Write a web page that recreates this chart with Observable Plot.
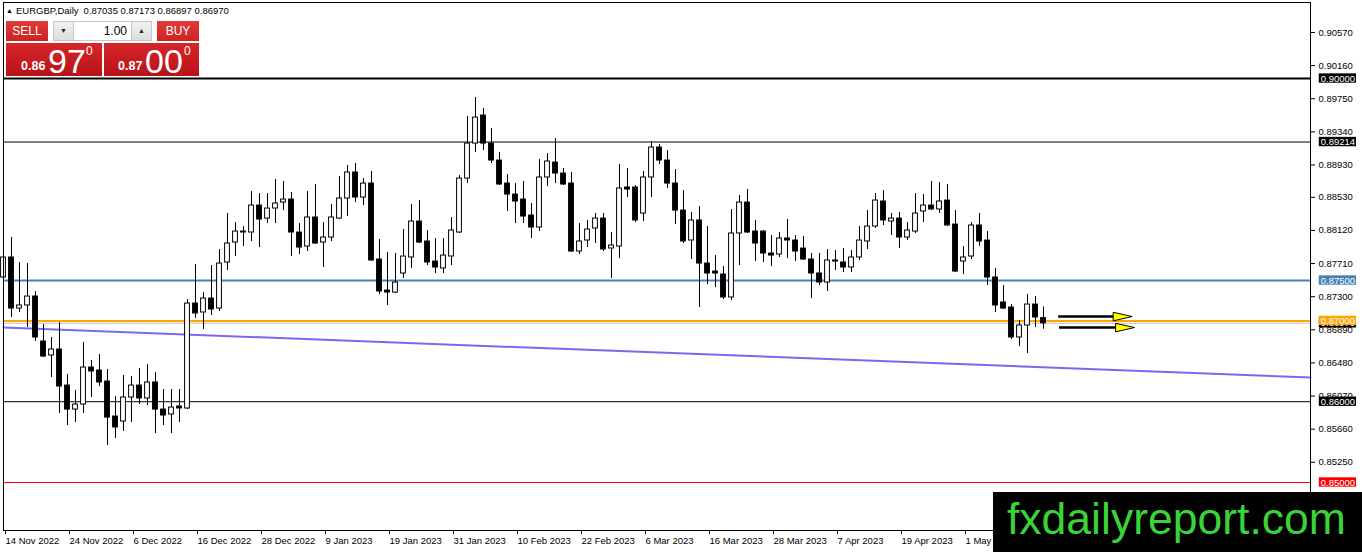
<!DOCTYPE html>
<html><head><meta charset="utf-8">
<script src="https://cdn.jsdelivr.net/npm/d3@7"></script>
<script src="https://cdn.jsdelivr.net/npm/@observablehq/plot@0.6"></script>
<style>
html,body{margin:0;padding:0;background:#fff;}
#wrap{position:relative;width:1362px;height:552px;overflow:hidden;font-family:"Liberation Sans",Arial,sans-serif;}
#chart{position:absolute;left:0;top:0;}
.ov{position:absolute;white-space:nowrap;}
#hdr{left:6px;top:5px;font-size:9.5px;line-height:11px;color:#000;}
#hdr .tri{font-size:7px;vertical-align:1px;margin-right:3px;}
#hdr .nums{margin-left:5px;}
.btn{position:absolute;top:21px;height:20px;background:linear-gradient(#e23a38,#cc2323);color:#fff;font-size:12px;line-height:20px;text-align:center;}
#sell{left:6px;width:42px;}
#buy{left:157px;width:42px;}
#spin{position:absolute;left:53px;top:21px;width:99px;height:20px;background:#fff;border:1px solid #c8c8c8;box-sizing:border-box;}
#spin .a{position:absolute;top:0;width:19px;height:18px;background:linear-gradient(#f2f2f2,#dcdcdc);border-right:1px solid #c8c8c8;font-size:7px;line-height:18px;text-align:center;color:#222;}
#spin .dn{left:0;}
#spin .up{right:0;border-right:none;border-left:1px solid #c8c8c8;}
#spin .val{position:absolute;right:24px;top:0;font-size:12px;line-height:18px;color:#000;}
.pbox{position:absolute;top:43px;height:33px;background:linear-gradient(#d6262a,#b8121a);color:#fff;}
.pbox span{position:absolute;line-height:1;}
.pbox .sm{font-size:12.5px;font-weight:bold;top:17px;}
.pbox .big{font-size:34px;top:1px;}
.pbox .sup{font-size:12px;top:2px;}
#wm{left:993px;top:492px;width:369px;height:60px;background:#000;}
#wm span{position:absolute;left:14px;top:5px;font-size:44.5px;line-height:1;color:#3ad43a;}
</style></head><body>
<div id="wrap">
<div id="chart"></div>
<div class="ov" id="hdr"><span class="tri">▲</span>EURGBP,Daily<span class="nums" id="hdrnums"></span></div>
<div class="btn" id="sell">SELL</div>
<div id="spin"><div class="a dn">▼</div><div class="val">1.00</div><div class="a up">▲</div></div>
<div class="btn" id="buy">BUY</div>
<div class="pbox" style="left:6px;width:96px;"><span class="sm" style="left:15px;">0.86</span><span class="big" style="left:42px;">97</span><span class="sup" style="left:80px;">0</span></div>
<div class="pbox" style="left:104px;width:95px;"><span class="sm" style="left:14px;">0.87</span><span class="big" style="left:41px;">00</span><span class="sup" style="left:80px;">0</span></div>
<div class="ov" id="wm"><span>fxdailyreport.com</span></div>
</div>
<script>
// ---- data (EURGBP daily, bar index 0 = 14 Nov 2022) ----
const opens = [0.87537,0.87785,0.87153,0.87191,0.87302,0.86745,0.86572,0.86646,0.86200,0.85903,
0.85965,0.86423,0.86386,0.86250,0.85817,0.85755,0.86052,0.86200,0.86040,0.86238,
0.85903,0.85842,0.85941,0.85916,0.87215,0.87104,0.87277,0.87153,0.87723,0.87970,
0.88106,0.88094,0.88428,0.88267,0.88391,0.88465,0.88502,0.88094,0.87921,0.88280,
0.87970,0.88032,0.88267,0.88515,0.88837,0.88527,0.88700,0.87760,0.87376,0.87351,
0.87587,0.87785,0.88230,0.87983,0.87735,0.87649,0.87797,0.88094,0.88762,0.89195,
0.89542,0.89195,0.88985,0.88700,0.88564,0.88502,0.88304,0.88156,0.88775,0.88960,
0.88824,0.88700,0.87859,0.87995,0.88144,0.88267,0.87896,0.87921,0.88651,0.88651,
0.88329,0.88775,0.89146,0.88985,0.88700,0.88366,0.87995,0.88243,0.87710,0.87611,
0.87574,0.87290,0.88082,0.88465,0.88106,0.88106,0.87834,0.87822,0.88020,0.87995,
0.87896,0.87760,0.87587,0.87475,0.87748,0.87723,0.87661,0.87785,0.87983,0.88168,
0.88478,0.88230,0.88267,0.88032,0.88106,0.88354,0.88428,0.88379,0.88490,0.88193,
0.87735,0.87797,0.88181,0.87995,0.87537,0.87228,0.87166,0.86795,0.86943,0.87203,
0.87035];
const highs = [0.88205,0.88032,0.87723,0.87710,0.87364,0.86955,0.86795,0.86980,0.86337,0.86139,
0.86733,0.86510,0.86584,0.86399,0.86064,0.86324,0.86312,0.86411,0.86460,0.86361,
0.86151,0.86151,0.86151,0.87265,0.87698,0.87351,0.87686,0.87884,0.88329,0.88218,
0.88168,0.88601,0.88577,0.88577,0.88750,0.88725,0.88589,0.88205,0.88601,0.88688,
0.88218,0.88441,0.88787,0.88923,0.88948,0.88762,0.88849,0.88007,0.87847,0.87834,
0.88131,0.88441,0.88490,0.88119,0.88020,0.88020,0.88280,0.88799,0.89530,0.89765,
0.89629,0.89381,0.89084,0.88812,0.88700,0.88725,0.88453,0.88997,0.89072,0.89257,
0.88886,0.88837,0.88205,0.88243,0.88329,0.88329,0.88094,0.88936,0.88886,0.88676,
0.88849,0.89220,0.89183,0.89109,0.88874,0.88614,0.88342,0.88416,0.88168,0.87809,
0.87673,0.88379,0.88552,0.88626,0.88243,0.88119,0.88057,0.88094,0.88255,0.88057,
0.88045,0.87834,0.87834,0.87884,0.87871,0.87896,0.87871,0.88168,0.88366,0.88577,
0.88614,0.88329,0.88342,0.88218,0.88577,0.88564,0.88725,0.88713,0.88688,0.88366,
0.87921,0.88218,0.88329,0.88106,0.87649,0.87438,0.87203,0.87005,0.87327,0.87302,
0.87173];
const lows = [0.87252,0.87042,0.87104,0.86918,0.86745,0.86547,0.86300,0.85854,0.85705,0.85743,
0.85854,0.86052,0.86188,0.85458,0.85545,0.85631,0.85743,0.85965,0.85953,0.85606,
0.85705,0.85606,0.85743,0.85903,0.87030,0.86894,0.87067,0.87116,0.87624,0.87797,
0.87921,0.87983,0.87908,0.88205,0.88205,0.88366,0.87797,0.87822,0.87859,0.87946,
0.87661,0.87983,0.88255,0.88292,0.88465,0.88428,0.87735,0.87327,0.87191,0.87339,
0.87525,0.87649,0.87958,0.87686,0.87587,0.87587,0.87686,0.88082,0.88700,0.89084,
0.89109,0.88948,0.88676,0.88354,0.88205,0.88205,0.88020,0.88106,0.88663,0.88700,
0.88676,0.87847,0.87822,0.87908,0.87958,0.87859,0.87525,0.87772,0.88527,0.88218,
0.88230,0.88527,0.88936,0.88639,0.88193,0.87958,0.87760,0.87166,0.87450,0.87413,
0.87265,0.87252,0.87686,0.88082,0.87735,0.87723,0.87673,0.87785,0.87772,0.87735,
0.87748,0.87277,0.87438,0.87364,0.87624,0.87599,0.87599,0.87748,0.87884,0.88144,
0.88181,0.88057,0.87896,0.87995,0.88082,0.88218,0.88366,0.88329,0.88168,0.87599,
0.87574,0.87760,0.87921,0.87438,0.87104,0.87141,0.86770,0.86683,0.86597,0.86918,
0.86897];
const closes = [0.87785,0.87153,0.87191,0.87302,0.86795,0.86559,0.86646,0.86188,0.85903,0.85965,
0.86423,0.86374,0.86238,0.85804,0.85681,0.86052,0.86200,0.86040,0.86238,0.85903,
0.85829,0.85928,0.85916,0.87215,0.87092,0.87277,0.87141,0.87710,0.87958,0.88106,
0.88094,0.88428,0.88255,0.88391,0.88453,0.88502,0.88094,0.87908,0.88280,0.87958,
0.88032,0.88280,0.88515,0.88837,0.88527,0.88700,0.87748,0.87364,0.87351,0.87475,
0.87797,0.88230,0.87970,0.87723,0.87661,0.87809,0.88119,0.88762,0.89195,0.89517,
0.89195,0.88985,0.88688,0.88564,0.88478,0.88292,0.88156,0.88775,0.88973,0.88824,
0.88688,0.87859,0.87983,0.88131,0.88267,0.87884,0.87933,0.88639,0.88626,0.88243,
0.88775,0.89146,0.88985,0.88700,0.88366,0.87983,0.88243,0.87710,0.87587,0.87587,
0.87290,0.88082,0.88465,0.88094,0.87958,0.87834,0.87809,0.88020,0.87995,0.87859,
0.87760,0.87587,0.87475,0.87748,0.87735,0.87661,0.87785,0.87995,0.88168,0.88490,
0.88243,0.88267,0.88032,0.88119,0.88329,0.88428,0.88379,0.88478,0.88181,0.87611,
0.87785,0.88181,0.87983,0.87537,0.87191,0.87153,0.86795,0.86943,0.87203,0.87042,
0.86970];
const dateTickIndex = [0,8,16,24,32,40,48,56,64,72,80,88,96,104,112,120];
const dateTickLabels = ["14 Nov 2022","24 Nov 2022","6 Dec 2022","16 Dec 2022","28 Dec 2022","9 Jan 2023","19 Jan 2023","31 Jan 2023","10 Feb 2023","22 Feb 2023","6 Mar 2023","16 Mar 2023","28 Mar 2023","7 Apr 2023","19 Apr 2023","1 May 2023"];
const priceTicks = [0.90570,0.90160,0.89750,0.89340,0.88930,0.88530,0.88120,0.87710,0.87300,0.86890,0.86480,0.86070,0.85660,0.85250];
const levelPrices = [0.90000,0.89214,0.87500,0.87000,0.86000,0.85000];
const trendIndex = [0, 163.375];
const trendPrices = [0.86918, 0.86300];
const arrowPrices = [0.87054, 0.86918];
const arrowFrom = [131.9, 132.0];
const arrowTo = [139.0, 139.3];
const arrowHead = [139.9, 140.2];
const header = [0.87035,0.87173,0.86897,0.86970];

// ---- styles ----
const levelColors = ["#000000","#000000","#4682b4","#ffa500","#000000","#ff0000"];
const levelWidths = [2,1,2,2,1,1];

document.getElementById("hdrnums").textContent = header.map(d3.format(".5f")).join(" ");

const bars = opens.map((o,i)=>({i, o, h:highs[i], l:lows[i], c:closes[i]}));
const xMax = 163.375;
const levels = levelPrices.map((p,k)=>({p, color:levelColors[k], w:levelWidths[k]}));
const trend = trendIndex.map((x,k)=>({x, p:trendPrices[k]}));
const arrows = arrowPrices.map((p,k)=>({p, x1:arrowFrom[k], x2:arrowTo[k], xh:arrowHead[k]}));
const lastClose = closes[closes.length-1];
const half = 0.00058;
const fmt = d3.format(".5f");

const rightTri = {draw(ctx, size){ const r = Math.sqrt(size/Math.PI); ctx.moveTo(-r,-0.45*r); ctx.lineTo(r,0); ctx.lineTo(-r,0.45*r); ctx.closePath(); }};

const boxMarks = (arr, fillFn) => [
  Plot.rect(arr, {x1: xMax+1.1, x2: xMax+5.75, y1: d=>d.p-half, y2: d=>d.p+half, fill: fillFn}),
  Plot.text(arr, {x: xMax+1.1, y: "p", text: d=>fmt(d.p), textAnchor:"start", dx: 1.5, fill:"white"})
];

const chart = Plot.plot({
  width:1362, height:552,
  marginLeft:3, marginRight:52, marginTop:2, marginBottom:22,
  x:{domain:[0,xMax], axis:null},
  y:{domain:[0.84406,0.90941], axis:null},
  style:{fontFamily:"'Liberation Sans', Arial, sans-serif", fontSize:"9.5px", color:"black", background:"transparent", overflow:"visible"},
  marks:[
    ...levels.map(l => Plot.ruleY([l.p], {stroke:l.color, strokeWidth:l.w})),
    Plot.ruleY([lastClose], {stroke:"#c4c4c4", strokeWidth:1}),
    Plot.line(trend, {x:"x", y:"p", stroke:"#7b68ee", strokeWidth:2}),
    Plot.ruleX(bars, {x:"i", y1:"l", y2:"h", stroke:"black", strokeWidth:1}),
    Plot.rect(bars, {filter:d=>d.c>=d.o, x1:d=>d.i-0.3, x2:d=>d.i+0.3, y1:"o", y2:"c", fill:"white", stroke:"black", strokeWidth:1}),
    Plot.rect(bars, {filter:d=>d.c<d.o, x1:d=>d.i-0.3, x2:d=>d.i+0.3, y1:"c", y2:"o", fill:"black", stroke:"black", strokeWidth:1}),
    Plot.ruleY(arrows, {y:"p", x1:"x1", x2:"x2", stroke:"black", strokeWidth:2.5}),
    Plot.dot(arrows, {x:"xh", y:"p", r:9.5, symbol:rightTri, fill:"#ffff00", stroke:"black", strokeWidth:1}),
    Plot.frame({stroke:"black"}),
    Plot.axisY(priceTicks, {anchor:"right", tickFormat:fmt, tickSize:4, tickPadding:4}),
    Plot.axisX(dateTickIndex, {anchor:"bottom", tickFormat:d=>dateTickLabels[dateTickIndex.indexOf(d)], textAnchor:"start", tickSize:4, tickPadding:3, dx:2}),
    ...boxMarks([{p:lastClose}], "black"),
    ...levels.map((l)=> boxMarks([l], l.color)).flat()
  ]
});
document.getElementById("chart").appendChild(chart);
</script>
</body></html>
